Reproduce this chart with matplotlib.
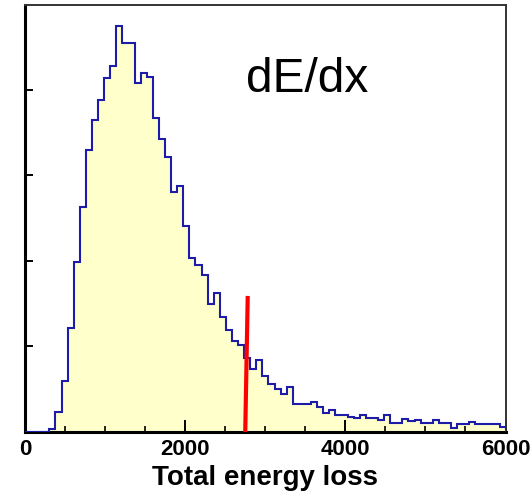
"""dE/dx total energy loss histogram with a cut line."""
import numpy as np
import matplotlib
matplotlib.use('Agg')
import matplotlib.pyplot as plt

plt.rcParams['font.family'] = ['Liberation Sans', 'DejaVu Sans']

# histogram contents (79 visible bins, width 76)
bin_width = 76
counts = [0, 0, 0, 0, 3, 23, 59, 121, 199, 263,
          330, 365, 388, 414, 428, 474, 455, 455, 408, 419,
          415, 367, 342, 321, 280, 287, 241, 203, 195, 184,
          149, 162, 134, 119, 106, 102, 87, 74, 84, 65,
          56, 50, 44, 52, 33, 33, 33, 35, 29, 22,
          26, 20, 20, 17, 16, 20, 16, 16, 14, 20,
          10, 10, 15, 13, 14, 10, 10, 14, 10, 10,
          5, 9, 9, 12, 9, 9, 9, 9, 6]

# cut line
cut_x = [2750, 2781]
cut_y = [0, 159]

x_ticks = [0, 2000, 4000, 6000]
y_ticks = [100, 200, 300, 400]

edges = np.arange(len(counts) + 1) * bin_width

fig = plt.figure(figsize=(5.30, 4.99), dpi=100)
ax = fig.add_axes([0.0472, 0.1343, 0.9066, 0.8557])

ax.stairs(counts, edges, fill=True, color='#ffffcc', zorder=1)
ax.stairs(counts, edges, color='#1c1ca8', lw=1.5, zorder=3)
ax.plot(cut_x, cut_y, color='#ff0000', lw=3.0, zorder=4, solid_capstyle='butt')

ax.set_xlim(0, 6000)
ax.set_ylim(0, 499)

ax.set_xticks(x_ticks)
ax.set_xticks(np.arange(500, 6000, 500), minor=True)
ax.set_yticks(y_ticks)
ax.set_yticklabels([])
ax.tick_params(axis='x', which='major', direction='in', length=8.6, width=1.4,
               pad=5, labelsize=16)
ax.tick_params(axis='x', which='minor', direction='in', length=4.3, width=1.2)
ax.tick_params(axis='y', which='major', direction='in', length=5.8, width=1.4)
for lab in ax.get_xticklabels():
    lab.set_fontweight('bold')

for side in ['left', 'bottom']:
    ax.spines[side].set_linewidth(2.2)
    ax.spines[side].set_color('black')
for side in ['top', 'right']:
    ax.spines[side].set_linewidth(1.4)
    ax.spines[side].set_color('#333333')

ax.set_xlabel('Total energy loss', fontsize=20, fontweight='bold', labelpad=4)
ax.text(0.459, 0.797, 'dE/dx', transform=ax.transAxes, fontsize=34.5,
        ha='left', va='baseline')

fig.savefig('out.png', dpi=100)
